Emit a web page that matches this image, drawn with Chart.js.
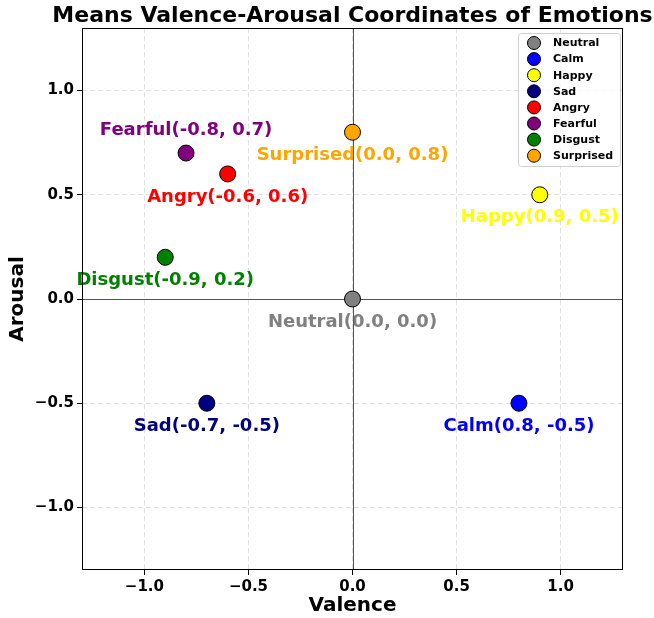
<!DOCTYPE html>
<html>
<head>
<meta charset="utf-8">
<script src="https://cdn.jsdelivr.net/npm/chart.js@4/dist/chart.umd.min.js"></script>
<style>
html,body{margin:0;padding:0;background:#fff;}
#wrap{width:654px;height:618px;position:relative;}
</style>
</head>
<body>
<div id="wrap"><canvas id="c" width="654" height="618"></canvas></div>
<script>
// ---- data ----
const emotions = ["Neutral", "Calm", "Happy", "Sad", "Angry", "Fearful", "Disgust", "Surprised"];
const valence  = [0.0, 0.8, 0.9, -0.7, -0.6, -0.8, -0.9, 0.0];
const arousal  = [0.0, -0.5, 0.5, -0.5, 0.6, 0.7, 0.2, 0.8];
const colors   = ["#808080", "#0000ff", "#ffff00", "#000080", "#ff0000", "#800080", "#008000", "#ffa500"];
const tickValues = [-1.0, -0.5, 0.0, 0.5, 1.0];
const axisMin = -1.3, axisMax = 1.3;
const titleText = "Means Valence-Arousal Coordinates of Emotions";
// label placement: above (-1) or below (+1) the point
const labelSide = [1, 1, 1, 1, 1, -1, 1, 1];

const FONT = "'DejaVu Sans', sans-serif";
const fmt = v => (v < 0 ? "\u2212" : "") + Math.abs(v).toFixed(1);

const datasets = emotions.map((name, i) => ({
  label: name,
  data: [{x: valence[i], y: arousal[i]}],
  backgroundColor: colors[i],
  borderColor: "#000",
  borderWidth: 1,
  pointRadius: 8,
  pointHoverRadius: 8
}));

const decor = {
  id: "decor",
  beforeDatasetsDraw(chart) {
    const {ctx, chartArea: a, scales: {x, y}} = chart;
    ctx.save();
    // point labels
    ctx.font = "bold 18px " + FONT;
    ctx.textAlign = "center";
    ctx.textBaseline = "middle";
    chart.data.datasets.forEach((ds, i) => {
      const el = chart.getDatasetMeta(i).data[0];
      ctx.fillStyle = colors[i];
      const txt = emotions[i] + "(" + valence[i].toFixed(1) + ", " + arousal[i].toFixed(1) + ")";
      ctx.fillText(txt, el.x, el.y + labelSide[i] * 23);
    });
    // zero lines
    ctx.strokeStyle = "#555555";
    ctx.lineWidth = 1;
    const x0 = Math.round(x.getPixelForValue(0)) + 0.5;
    const y0 = Math.round(y.getPixelForValue(0)) + 0.5;
    ctx.beginPath();
    ctx.moveTo(x0, a.top); ctx.lineTo(x0, a.bottom);
    ctx.moveTo(a.left, y0); ctx.lineTo(a.right, y0);
    ctx.stroke();
    ctx.restore();
  },
  afterDatasetsDraw(chart) {
    const {ctx, chartArea: a} = chart;
    ctx.save();
    // frame
    ctx.strokeStyle = "#000";
    ctx.lineWidth = 1;
    ctx.strokeRect(Math.round(a.left) + 0.5, Math.round(a.top) + 0.5,
                   Math.round(a.right - a.left) - 1, Math.round(a.bottom - a.top) - 1);
    // title
    ctx.textAlign = "center";
    ctx.textBaseline = "middle";
    ctx.fillStyle = "#000";
    ctx.font = "bold 22px " + FONT;
    ctx.fillText(titleText, (a.left + a.right) / 2, 16);
    // legend
    const lx = a.right - 105, ly = a.top + 5, lw = 102, lh = 133;
    ctx.fillStyle = "rgba(255,255,255,0.8)";
    ctx.strokeStyle = "#d0d0d0";
    ctx.beginPath();
    ctx.roundRect(lx + 0.5, ly + 0.5, lw, lh, 3);
    ctx.fill(); ctx.stroke();
    ctx.font = "bold 11px " + FONT;
    ctx.textAlign = "left";
    emotions.forEach((name, i) => {
      const cy = ly + 10 + i * 16.1;
      ctx.beginPath();
      ctx.arc(lx + 16, cy, 6.5, 0, Math.PI * 2);
      ctx.fillStyle = colors[i];
      ctx.fill();
      ctx.strokeStyle = "#000";
      ctx.stroke();
      ctx.fillStyle = "#000";
      ctx.fillText(name, lx + 35, cy + 0.5);
    });
    ctx.restore();
  }
};

const axisCommon = (titleTxt) => ({
  type: "linear",
  min: axisMin,
  max: axisMax,
  afterBuildTicks: s => { s.ticks = tickValues.map(v => ({value: v})); },
  grid: {
    color: "rgba(0,0,0,0.12)",
    tickColor: "#000",
    tickLength: 5,
    tickBorderDash: [],
    drawTicks: true
  },
  border: {display: false, dash: [5, 3]},
  ticks: {
    color: "#000",
    font: {family: FONT, size: 15, weight: "bold"},
    padding: 3,
    callback: v => fmt(v)
  },
  title: {
    display: true,
    text: titleTxt,
    color: "#000",
    font: {family: FONT, size: 20, weight: "bold"},
    padding: {top: 0, bottom: 0}
  }
});

const xAxis = axisCommon("Valence");
xAxis.afterFit = s => { s.height = 48; };
xAxis.ticks.maxRotation = 0;
const yAxis = axisCommon("Arousal");
yAxis.title.padding = {top: 6, bottom: 0};
yAxis.afterFit = s => { s.width = 82; };

new Chart(document.getElementById("c"), {
  type: "scatter",
  data: {datasets},
  options: {
    responsive: false,
    animation: false,
    devicePixelRatio: 1,
    layout: {padding: {top: 28, right: 31, bottom: 0, left: 0}},
    plugins: {legend: {display: false}, title: {display: false}, tooltip: {enabled: false}},
    scales: {x: xAxis, y: yAxis}
  },
  plugins: [decor]
});
</script>
</body>
</html>
